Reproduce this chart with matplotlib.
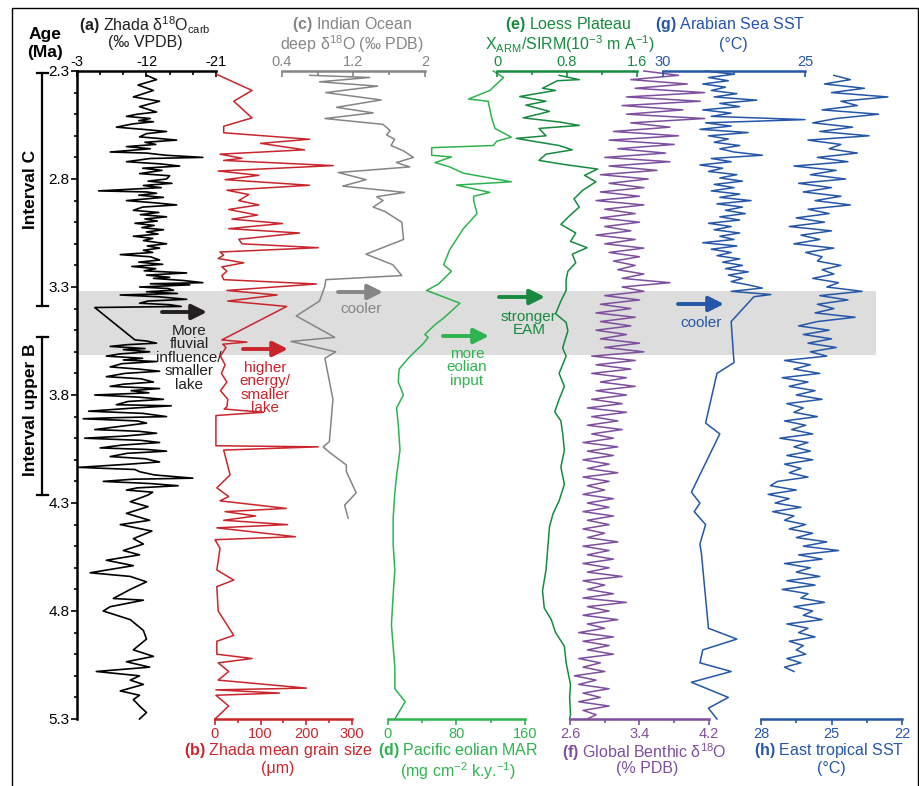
import numpy as np
import matplotlib.pyplot as plt

plt.rcParams['font.family'] = ['Liberation Sans', 'DejaVu Sans']
plt.rcParams['mathtext.fontset'] = 'custom'
plt.rcParams['mathtext.rm'] = 'Liberation Sans'
plt.rcParams['mathtext.bf'] = 'Liberation Sans:bold'
plt.rcParams['mathtext.it'] = 'Liberation Sans:italic'
plt.rcParams['axes.unicode_minus'] = False

# colours of the eight records
C_A = '#000000'
C_B = '#c9252c'
C_C = '#858585'
C_D = '#2fb34f'
C_E = '#178a40'
C_F = '#7d4f9e'
C_G = '#2556a8'
TXT = '#231f20'

# (a) Zhada d18O carb (per mil VPDB)
a_age = [2.32, 2.34, 2.365, 2.39, 2.42, 2.44, 2.465, 2.49,
         2.50, 2.51, 2.52, 2.53, 2.535, 2.545, 2.56, 2.57, 2.58, 2.59, 2.605, 2.612, 2.62, 2.63,
         2.64, 2.65, 2.66, 2.675, 2.68, 2.69, 2.70, 2.705, 2.72, 2.73, 2.74, 2.75, 2.76, 2.775,
         2.785, 2.80, 2.81, 2.82, 2.83, 2.84, 2.855, 2.86, 2.866, 2.875, 2.885, 2.90, 2.91,
         2.92, 2.93, 2.945, 2.955, 2.965, 2.975, 2.985, 2.995, 3.005, 3.015, 3.025, 3.035,
         3.045, 3.055, 3.065, 3.075, 3.085, 3.10, 3.11, 3.12, 3.13, 3.14, 3.15, 3.16, 3.175,
         3.185, 3.195, 3.205, 3.215, 3.225, 3.235, 3.245, 3.255, 3.26, 3.27, 3.28, 3.285, 3.29,
         3.30, 3.307, 3.315, 3.322, 3.33, 3.337, 3.345, 3.357, 3.365, 3.375, 3.382, 3.39, 3.395,
         3.545, 3.55, 3.56, 3.567, 3.575, 3.585, 3.59, 3.60, 3.61, 3.62, 3.63, 3.638, 3.645,
         3.655, 3.67, 3.68, 3.69, 3.70, 3.715, 3.725, 3.74, 3.75, 3.76, 3.77, 3.78, 3.79, 3.80,
         3.81, 3.82, 3.83, 3.845, 3.85, 3.86, 3.875, 3.885, 3.90, 3.905, 3.91, 3.92, 3.93,
         3.945, 3.96, 3.968, 3.977, 3.99, 4.00, 4.01, 4.02, 4.032, 4.045, 4.052, 4.06, 4.07,
         4.085, 4.095, 4.11, 4.12, 4.135, 4.145, 4.155, 4.17, 4.185, 4.19, 4.20, 4.21, 4.22,
         4.23, 4.24, 4.25, 4.263,
         4.294, 4.317, 4.348, 4.38, 4.40, 4.43, 4.465, 4.49, 4.52, 4.54, 4.565, 4.59, 4.623,
         4.64, 4.665, 4.70, 4.742, 4.75, 4.78, 4.80, 4.84, 4.89, 4.93, 4.98, 5.01, 5.035, 5.06,
         5.08, 5.10, 5.12, 5.14, 5.17, 5.19, 5.21, 5.24, 5.27, 5.30]
a_val = [-12.0, -13.3, -10.9, -12.9, -10.3, -13.7, -11.1, -13.3,
         -10.8, -9.4, -12.5, -11.0, -12.9, -10.2, -8.1, -11.5, -14.6, -12.0, -11.1, -13.5, -15.9,
         -11.8, -13.2, -9.4, -12.5, -7.3, -12.0, -14.5, -19.3, -12.5, -9.4, -13.8, -16.3, -11.5,
         -14.0, -11.1, -15.0, -14.6, -12.2, -15.3, -11.6, -13.9, -5.8, -12.0, -13.3, -11.0,
         -14.2, -9.4, -13.0, -15.9, -11.5, -10.3, -13.6, -11.2, -14.6, -11.8, -13.4, -10.5,
         -13.0, -11.4, -14.2, -12.0, -13.5, -10.3, -12.8, -11.6, -14.6, -12.1, -13.7, -11.6,
         -12.8, -8.6, -12.5, -13.7, -11.0, -14.1, -10.1, -13.2, -11.7, -17.2, -12.0, -15.0,
         -12.9, -16.8, -19.3, -12.5, -17.6, -11.1, -14.8, -15.5, -12.0, -16.0, -8.6, -13.5,
         -17.2, -12.2, -11.1, -15.0, -16.5, -5.3,
         -10.5, -12.0, -13.3, -9.5, -7.3, -11.8, -9.0, -12.4, -8.5, -6.8, -11.5, -9.0, -13.3,
         -8.8, -7.3, -11.0, -13.7, -9.2, -6.8, -11.3, -12.9, -9.0, -7.3, -13.7, -10.0, -12.3,
         -5.3, -11.0, -14.2, -9.6, -8.1, -15.2, -10.5, -4.5, -11.5, -14.6, -8.0, -3.8, -10.8,
         -12.0, -8.7, -5.3, -11.0, -13.3, -9.2, -4.0, -11.3, -13.7, -8.8, -6.0, -12.0, -14.6,
         -9.5, -7.3, -11.8, -13.7, -9.8, -3.2, -10.5, -11.1, -13.0, -18.0, -10.2, -6.4, -12.5,
         -16.1, -10.8, -9.4, -12.8, -12.2,
         -9.9, -12.2, -9.4, -12.4, -8.6, -12.7, -10.3, -11.6, -9.0, -11.1, -6.8, -10.3, -4.7,
         -9.9, -12.0, -9.9, -7.7, -11.6, -7.3, -6.4, -9.9, -11.6, -12.0, -10.3, -12.9, -9.4,
         -12.4, -5.5, -11.1, -9.9, -11.6, -8.6, -11.1, -10.3, -11.1, -12.0, -11.1]

# (b) Zhada mean grain size (um)
b_age = [2.316, 2.39, 2.44, 2.517, 2.556, 2.586, 2.616, 2.635, 2.665, 2.685, 2.704, 2.714, 2.738,
         2.763, 2.783, 2.803, 2.829, 2.852, 2.872, 2.90, 2.92, 2.941, 2.967, 2.986, 3.006, 3.03,
         3.05, 3.079, 3.10, 3.118, 3.138, 3.152, 3.168, 3.188, 3.207, 3.227, 3.247, 3.266, 3.286,
         3.316, 3.337, 3.365, 3.39, 3.545, 3.555, 3.565, 3.58, 3.62, 3.66, 3.70, 3.74, 3.78,
         3.82, 3.855, 3.865, 3.88, 3.895, 4.035, 4.04, 4.055, 4.17, 4.23, 4.27, 4.29, 4.325,
         4.34, 4.36, 4.38, 4.40, 4.415, 4.456, 4.47, 4.51, 4.61, 4.657, 4.687, 4.80, 4.913,
         4.94, 5.00, 5.02, 5.04, 5.08, 5.12, 5.157, 5.165, 5.18, 5.19, 5.24, 5.30]
b_val = [4, 81, 41, 81, 19, 19, 207, 100, 196, 11, 59, 19, 259, 7, 96, 22, 207, 26, 74, 52, 96,
         30, 93, 37, 148, 30, 185, 52, 59, 226, 11, 19, 7, 63, 15, 26, 15, 19, 222, 26, 136, 28,
         157, 15, 70, 17, 24, 12, 22, 14, 26, 12, 28, 26, 20, 106, 2, 2, 226, 19, 33, 4, 30, 11,
         156, 22, 89, 19, 159, 4, 176, 0, 11, 4, 41, 4, 7, 41, 4, 4, 81, 7, 30, 7, 200, 2, 141,
         2, 30, 0]

# (c) Indian Ocean deep-water d18O (per mil PDB)
c_age = [2.32, 2.33, 2.35, 2.37, 2.40, 2.434, 2.468, 2.494, 2.52, 2.547, 2.576, 2.596, 2.616,
         2.645, 2.67, 2.70, 2.724, 2.744, 2.77, 2.803, 2.833, 2.862, 2.882, 2.90, 2.93, 2.95,
         3.00, 3.08, 3.148, 3.197, 3.247, 3.266, 3.296, 3.365, 3.434, 3.533, 3.552, 3.60, 3.63,
         3.82, 4.016, 4.04, 4.065, 4.124, 4.154, 4.253, 4.31, 4.37]
c_val = [0.71, 1.38, 0.82, 1.47, 0.89, 1.51, 1.01, 1.42, 0.88, 1.53, 1.61, 1.57, 1.66, 1.62,
         1.76, 1.87, 1.68, 1.83, 1.03, 1.34, 1.08, 1.77, 1.46, 1.53, 1.42, 1.55, 1.74, 1.76,
         1.34, 1.64, 1.74, 0.89, 0.88, 0.82, 0.56, 0.99, 0.50, 1.00, 0.88, 0.97, 0.93, 0.86,
         0.93, 1.12, 1.12, 1.23, 1.10, 1.14]

# (d) Pacific eolian MAR (mg cm-2 k.y.-1)
d_age = [2.30, 2.33, 2.39, 2.43, 2.44, 2.517, 2.566, 2.606, 2.625, 2.645, 2.655, 2.69, 2.698,
         2.724, 2.744, 2.773, 2.813, 2.828, 2.862, 2.88, 2.90, 2.96, 3.03, 3.128, 3.197, 3.227,
         3.286, 3.316, 3.375, 3.444, 3.474, 3.52, 3.533, 3.563, 3.62, 3.68, 3.74, 3.80, 3.86,
         3.937, 4.055, 4.174, 4.253, 4.37, 4.49, 4.61, 4.726, 4.864, 4.963, 5.06, 5.16, 5.22,
         5.30]
d_val = [123, 135, 119, 94, 117, 121, 125, 144, 127, 123, 51, 51, 74, 55, 72, 88, 144, 80, 119,
         100, 100, 104, 88, 72, 65, 74, 59, 45, 84, 65, 55, 43, 47, 41, 26, 13, 12, 18, 10, 12,
         14, 10, 8, 6, 6, 8, 6, 4, 6, 8, 8, 20, 8]

# (e) Loess Plateau XARM/SIRM (10-3 m A-1)
e_age = [2.32, 2.34, 2.345, 2.38, 2.39, 2.418, 2.44, 2.458, 2.487, 2.517, 2.537, 2.552, 2.566,
         2.60, 2.612, 2.625, 2.645, 2.665, 2.685, 2.714, 2.734, 2.754, 2.783, 2.813, 2.852,
         2.892, 2.93, 2.97, 3.01, 3.05, 3.089, 3.118, 3.148, 3.188, 3.227, 3.266, 3.316, 3.365,
         3.424, 3.464, 3.503, 3.582, 3.62, 3.70, 3.76, 3.82, 3.878, 3.92, 3.976, 4.055, 4.134,
         4.213, 4.29, 4.35, 4.41, 4.51, 4.61, 4.706, 4.786, 4.84, 4.90, 4.963, 5.04, 5.14,
         5.20, 5.28, 5.30]
e_val = [0.71, 0.94, 0.69, 0.52, 0.67, 0.26, 0.56, 0.33, 0.60, 0.30, 0.73, 0.94, 0.48, 0.56,
         0.22, 0.41, 0.71, 0.86, 0.56, 0.48, 0.79, 1.15, 1.00, 1.13, 0.98, 0.88, 0.94, 0.83,
         0.73, 0.90, 0.84, 1.03, 0.86, 0.90, 0.81, 0.79, 0.79, 0.73, 0.67, 0.79, 0.81, 0.75,
         0.79, 0.71, 0.77, 0.71, 0.66, 0.73, 0.75, 0.77, 0.73, 0.77, 0.71, 0.64, 0.60, 0.58,
         0.56, 0.52, 0.54, 0.62, 0.67, 0.77, 0.79, 0.84, 0.83, 0.84, 0.83]

# (f) Global benthic d18O (per mil PDB), 0.02 Myr steps from 2.30 to 5.30
f_val = [3.45, 3.85, 3.30, 3.95, 3.35, 4.15, 3.25, 4.10, 3.20, 3.90, 3.25, 4.15, 3.30, 3.75,
         3.10, 3.85, 3.05, 3.80, 3.15, 3.70, 3.00, 3.75, 3.05, 3.60, 2.95, 3.50, 3.05, 3.45,
         2.95, 3.40, 2.90, 3.45, 3.00, 3.35, 2.95, 3.40, 3.00, 3.30, 2.90, 3.35, 3.00, 3.45,
         3.05, 3.40, 3.10, 3.35, 3.15, 3.45, 3.20, 3.75, 3.20, 3.45, 3.00, 3.40, 2.95, 3.30,
         2.90, 3.35, 2.95, 3.30, 2.90, 3.25, 2.95, 3.40, 3.00, 3.45, 2.85, 3.35, 2.90, 3.30,
         2.85, 3.25, 2.95, 3.35, 2.90, 3.25, 2.85, 3.20, 2.80, 3.25, 2.85, 3.15, 2.80, 3.20,
         2.85, 3.10, 2.75, 3.15, 2.80, 3.10, 2.75, 3.05, 2.80, 3.15, 2.75, 3.05, 2.80, 3.00,
         2.75, 3.10, 2.80, 3.05, 2.75, 3.10, 2.80, 3.05, 2.75, 3.00, 2.80, 3.15, 2.75, 3.05,
         2.80, 3.10, 2.75, 3.05, 2.80, 3.20, 2.75, 3.00, 2.80, 3.10, 2.75, 3.25, 2.80, 3.05,
         2.75, 3.15, 2.80, 3.00, 2.70, 3.10, 2.75, 3.05, 2.80, 3.10, 2.70, 2.95, 2.75, 3.00,
         2.65, 2.90, 2.70, 3.05, 2.75, 2.95, 2.70, 3.05, 2.75, 2.90, 2.80]
f_age = np.linspace(2.30, 5.30, len(f_val))

# (g) Arabian Sea SST (deg C): dense part 2.300-3.335 in 0.015 Myr steps, then sparse samples
g_dense = [28.5, 27.5, 28.4, 27.7, 28.6, 27.8, 28.3, 27.4, 28.2, 26.7, 28.0, 27.3, 28.6, 27.6,
           28.3, 25.0, 28.5, 27.6, 28.7, 27.0, 28.4, 27.7, 28.2, 27.3, 28.0, 27.5, 26.5, 28.3,
           27.6, 28.7, 27.9, 28.4, 27.4, 28.0, 27.2, 28.2, 27.5, 28.3, 27.3, 28.0, 26.9, 28.1,
           27.2, 27.8, 27.1, 28.0, 27.3, 28.4, 27.6, 28.2, 27.3, 28.0, 27.5, 28.6, 27.4, 28.3,
           27.6, 28.1, 27.3, 27.9, 27.2, 27.8, 27.0, 27.7, 27.2, 27.6, 27.0, 26.5, 27.6, 26.2]
g_sparse_age = [3.345, 3.46, 3.65, 3.70, 3.93, 3.98, 4.25, 4.30, 4.34, 4.40, 4.49, 4.53, 4.88,
                4.93, 4.98, 5.04, 5.08, 5.13, 5.20, 5.25, 5.30]
g_sparse_val = [26.8, 27.6, 27.5, 28.1, 28.5, 28.0, 29.0, 28.7, 28.9, 28.5, 28.7, 28.65, 28.4,
                27.4, 28.6, 28.7, 27.6, 29.0, 27.7, 28.4, 28.1]
g_age = np.concatenate([np.linspace(2.300, 3.335, len(g_dense)), g_sparse_age])
g_val = np.concatenate([g_dense, g_sparse_val])

# (h) East tropical SST (deg C), 0.02 Myr steps from 2.32 to 5.08
h_val = [24.9, 24.2, 25.3, 23.6, 25.0, 22.6, 24.6, 23.9, 25.4, 23.0, 24.8,
         25.8, 24.1, 25.5, 23.4, 26.0, 24.6, 25.1, 23.9, 25.6, 24.3,
         26.6, 24.8, 25.9, 24.4, 26.4, 25.0, 26.2, 24.6, 25.7, 24.2, 26.0, 25.1, 26.5, 25.3,
         26.8, 25.0, 26.3, 25.5, 26.6, 24.9, 26.1, 25.4,
         25.6, 24.6, 25.4, 24.9, 25.8, 24.7, 25.2,
         23.7, 25.5, 24.3, 25.6, 24.9, 25.7, 24.0, 25.6,
         26.4, 25.1, 26.2, 25.0, 26.0, 24.8, 25.9, 25.2,
         27.0, 25.9, 26.6, 25.5, 27.1, 26.0, 26.8, 25.7, 26.5, 25.4, 26.9, 26.2, 26.6, 25.6,
         27.0, 26.1, 26.7, 25.8, 27.2, 26.0, 26.6, 25.9, 26.9, 25.8, 27.0, 26.3, 26.8, 26.0,
         27.3,
         27.6, 26.5, 27.7, 26.8, 27.4, 26.3, 27.5, 26.6, 27.0, 26.1,
         26.8, 25.8, 26.5, 25.2, 26.2, 24.7,
         26.4, 25.4, 27.0, 25.9, 26.5, 25.5, 26.9, 25.7, 27.1, 26.0, 26.3, 25.3, 26.6, 25.8,
         26.2, 25.4, 26.9, 26.0, 26.4, 25.7, 26.8, 26.2, 26.5, 26.1, 26.9, 26.3, 27.0, 26.6]
h_age = np.linspace(2.32, 5.08, len(h_val))

W, H = 920, 786
TOP_PX, BOT_PX = 71, 719
BOT = 1 - BOT_PX / H
HGT = (BOT_PX - TOP_PX) / H

fig = plt.figure(figsize=(W / 100, H / 100), dpi=100)


def ptext(x, y, s, **kw):
    kw.setdefault('ha', 'center')
    kw.setdefault('va', 'center')
    fig.text(x / W, 1 - y / H, s, **kw)


# grey band across all records
band = fig.add_axes([77 / W, BOT, (876 - 77) / W, HGT])
band.set_ylim(5.3, 2.3)
band.axhspan(3.317, 3.613, color='#dcdddc', lw=0)
band.axis('off')


def record(x0, x1, lim, side, color, ticks, labels, minor):
    ax = fig.add_axes([x0 / W, BOT, (x1 - x0) / W, HGT])
    ax.set_xlim(lim)
    ax.set_ylim(5.3, 2.3)
    ax.patch.set_visible(False)
    for s in ax.spines.values():
        s.set_visible(False)
    ax.spines[side].set_visible(True)
    ax.spines[side].set_color(color)
    ax.spines[side].set_linewidth(1.8)
    ax.set_yticks([])
    ax.xaxis.set_ticks_position(side)
    ax.set_xticks(ticks)
    ax.set_xticklabels(labels)
    ax.set_xticks(minor, minor=True)
    ax.tick_params(axis='x', which='both', color=color, labelcolor=color, labelsize=10.5,
                   width=1.2, direction='in' if side == 'top' else 'out', pad=1.5)
    ax.tick_params(axis='x', which='major', length=4)
    ax.tick_params(axis='x', which='minor', length=3)
    return ax


ax_a = record(77, 216, (-3, -21), 'top', C_A, [-3, -12, -21], ['-3', '-12', '-21'], [-6, -9, -15, -18])
ax_b = record(215, 352, (0, 300), 'bottom', C_B, [0, 100, 200, 300], ['0', '100', '200', '300'], [50, 150, 250])
ax_c = record(282, 425, (0.4, 2.0), 'top', C_C, [0.4, 1.2, 2.0], ['0.4', '1.2', '2'], [0.8, 1.6])
ax_d = record(388, 525, (0, 160), 'bottom', C_D, [0, 80, 160], ['0', '80', '160'], [40, 120])
ax_e = record(497, 637, (0, 1.6), 'top', C_E, [0, 0.8, 1.6], ['0', '0.8', '1.6'], [0.4, 1.2])
ax_f = record(570, 709, (2.6, 4.2), 'bottom', C_F, [2.6, 3.4, 4.2], ['2.6', '3.4', '4.2'], [3.0, 3.8])
ax_g = record(663, 805, (30, 25), 'top', C_G, [30, 25], ['30', '25'], [27.5])
ax_h = record(761, 902, (28, 22), 'bottom', C_G, [28, 25, 22], ['28', '25', '22'], [26.5, 23.5])

# age axis on the left of record (a)
ax_a.spines['left'].set_visible(True)
ax_a.spines['left'].set_linewidth(1.8)
ax_a.set_yticks([2.3, 2.8, 3.3, 3.8, 4.3, 4.8, 5.3])
ax_a.set_yticklabels(['2.3', '2.8', '3.3', '3.8', '4.3', '4.8', '5.3'])
ax_a.set_yticks(np.round(np.arange(2.3, 5.31, 0.1), 1), minor=True)
ax_a.tick_params(axis='y', which='both', direction='out', width=1.2, labelsize=11, pad=1.5)
ax_a.tick_params(axis='y', which='major', length=4)
ax_a.tick_params(axis='y', which='minor', length=2.5)

lw = 1.1
ax_a.plot(a_val, a_age, color=C_A, lw=1.2, clip_on=False)
ax_b.plot(b_val, b_age, color=C_B, lw=lw, clip_on=False)
ax_c.plot(c_val, c_age, color=C_C, lw=lw, clip_on=False)
ax_d.plot(d_val, d_age, color=C_D, lw=lw, clip_on=False)
ax_e.plot(e_val, e_age, color=C_E, lw=lw, clip_on=False)
ax_f.plot(f_val, f_age, color=C_F, lw=lw, clip_on=False)
ax_g.plot(g_val, g_age, color=C_G, lw=lw, clip_on=False)
ax_h.plot(h_val, h_age, color=C_G, lw=lw, clip_on=False)

# interval brackets
ax_int = fig.add_axes([0, BOT, 77 / W, HGT])
ax_int.set_xlim(0, 77)
ax_int.set_ylim(5.3, 2.3)
ax_int.axis('off')
for top, bot in [(2.31, 3.39), (3.533, 4.263)]:
    ax_int.plot([42, 42], [top, bot], color='black', lw=1.6)
    ax_int.plot([37, 48], [top, top], color='black', lw=1.6)
    ax_int.plot([37, 48], [bot, bot], color='black', lw=1.6)
ax_int.text(31, 2.85, 'Interval C', rotation=90, ha='center', va='center',
            fontsize=12.5, fontweight='bold')
ax_int.text(31, 3.87, 'Interval upper B', rotation=90, ha='center', va='center',
            fontsize=12.5, fontweight='bold')

# titles above and below the records
ptext(45, 35, 'Age', fontsize=12.5, fontweight='bold')
ptext(45, 53, '(Ma)', fontsize=12.5, fontweight='bold')
fs = 11.5
ptext(145, 25, r'$\mathbf{(a)}$ Zhada δ$^{18}$O$_{\mathrm{carb}}$', fontsize=fs, color=TXT)
ptext(145, 43, '(‰ VPDB)', fontsize=fs, color=TXT)
ptext(352, 24, r'$\mathbf{(c)}$ Indian Ocean', fontsize=fs, color=C_C)
ptext(352, 44, r'deep δ$^{18}$O (‰ PDB)', fontsize=fs, color=C_C)
ptext(568, 25, r'$\mathbf{(e)}$ Loess Plateau', fontsize=fs, color=C_E)
ptext(570, 44, r'X$_{\mathrm{ARM}}$/SIRM(10$^{-3}$ m A$^{-1}$)', fontsize=fs, color=C_E)
ptext(730, 25, r'$\mathbf{(g)}$ Arabian Sea SST', fontsize=fs, color=C_G)
ptext(733, 44, '(°C)', fontsize=fs, color=C_G)
ptext(278, 751, r'$\mathbf{(b)}$ Zhada mean grain size', fontsize=fs, color=C_B)
ptext(278, 769, '(μm)', fontsize=fs, color=C_B)
ptext(458, 750, r'$\mathbf{(d)}$ Pacific eolian MAR', fontsize=fs, color=C_D)
ptext(458, 771, r'(mg cm$^{-2}$ k.y.$^{-1}$)', fontsize=fs, color=C_D)
ptext(644, 752, r'$\mathbf{(f)}$ Global Benthic δ$^{18}$O', fontsize=fs, color=C_F)
ptext(647, 769, '(% PDB)', fontsize=fs, color=C_F)
ptext(829, 751, r'$\mathbf{(h)}$ East tropical SST', fontsize=fs, color=C_G)
ptext(831, 769, '(°C)', fontsize=fs, color=C_G)

# overlay in pixel units: outer frame, arrows and notes
ov = fig.add_axes([0, 0, 1, 1])
ov.set_xlim(0, W)
ov.set_ylim(H, 0)
ov.axis('off')
ov.plot([12, 12, 918, 918], [H, 8, 8, H], color='black', lw=1.0, clip_on=False)

arrows = [
    (162, 207, 312, TXT, 'More\nfluvial\ninfluence/\nsmaller\nlake', 189, 324),
    (243, 288, 349, C_B, 'higher\nenergy/\nsmaller\nlake', 265, 361),
    (338, 383, 292, C_C, 'cooler', 361, 302),
    (443, 489, 336, C_D, 'more\neolian\ninput', 467, 347),
    (499, 545, 297, C_E, 'stronger\nEAM', 529, 310),
    (678, 724, 304, C_G, 'cooler', 701, 316),
]
for x0, x1, y, col, note, tx, ty in arrows:
    ov.annotate('', xy=(x1, y), xytext=(x0, y),
                arrowprops=dict(arrowstyle='-|>,head_length=0.9,head_width=0.45',
                                lw=2.8, color=col, shrinkA=0, shrinkB=0))
    ov.text(tx, ty, note, color=col, ha='center', va='top', fontsize=11, linespacing=0.95)

fig.savefig('out.png', dpi=100)
